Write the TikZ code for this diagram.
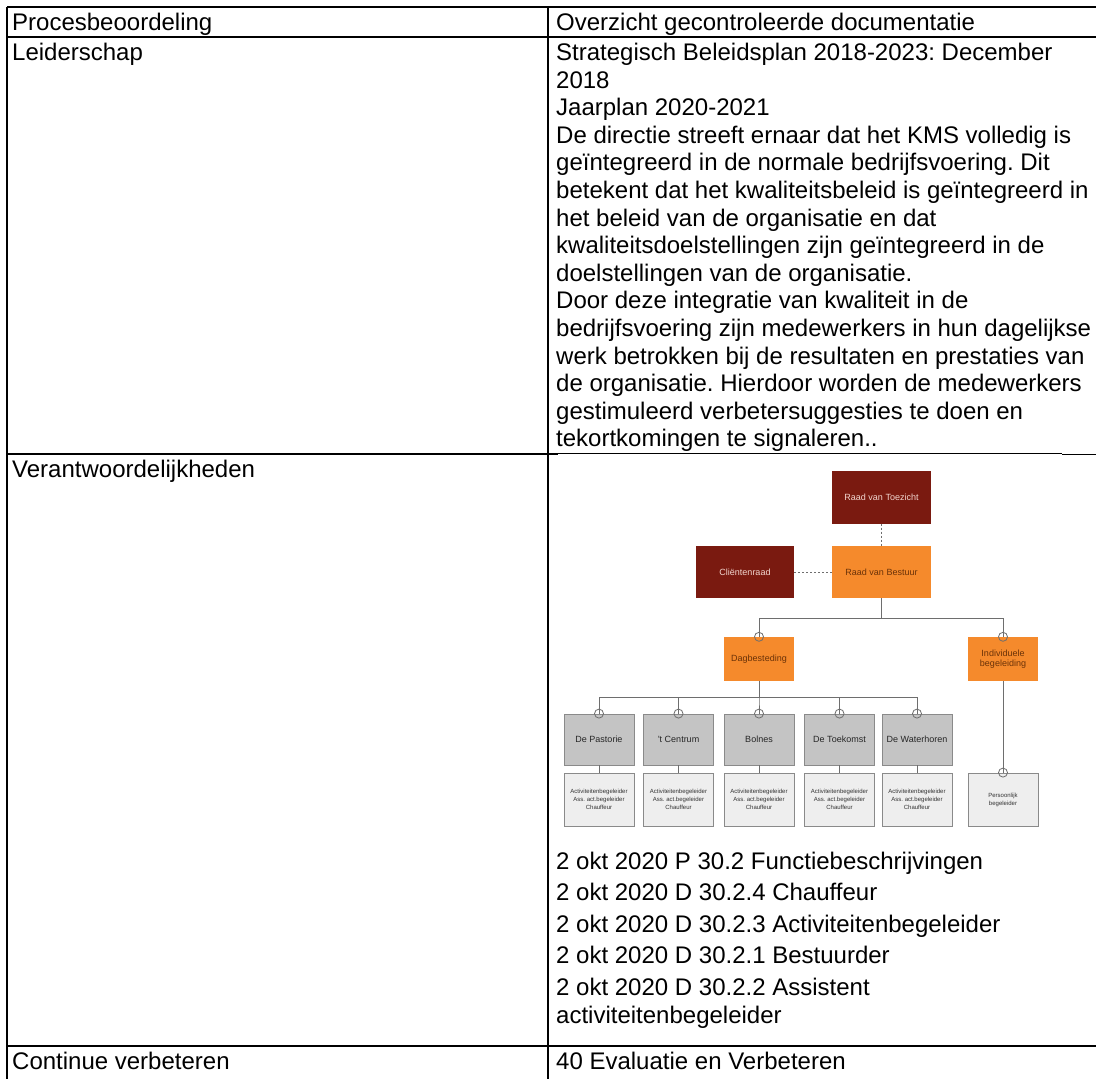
\documentclass[tikz,border=0pt]{standalone}
\usepackage{fontspec}
\setmainfont{Liberation Sans}
\frenchspacing
\definecolor{darkred}{HTML}{7A1A10}
\definecolor{orangebox}{HTML}{F58A2C}
\definecolor{graybox}{HTML}{C4C4C4}
\definecolor{grayedge}{HTML}{8A8A8A}
\definecolor{lightbox}{HTML}{EEEEEE}
\definecolor{connc}{HTML}{6E6E6E}
\definecolor{redtext}{HTML}{F2D6CF}
\definecolor{orangetext}{HTML}{6A3208}
\tikzset{
  txt/.style={anchor=base west, inner sep=0pt, font=\fontsize{24bp}{27.6bp}\selectfont},
  grid/.style={line width=1.8bp, black},
  thingrid/.style={line width=1.2bp, black},
  orgbox/.style={inner sep=1bp, align=center, font=\fontsize{9bp}{10.5bp}\selectfont},
  redbox/.style={orgbox, fill=darkred, text=redtext, minimum width=99bp, minimum height=53bp},
  orbox/.style={orgbox, fill=orangebox, text=orangetext},
  gbox/.style={orgbox, fill=graybox, draw=grayedge, line width=0.8bp, text=black!85, minimum width=70bp, minimum height=51bp},
  lbox/.style={orgbox, fill=lightbox, draw=grayedge, line width=0.8bp, text=black!80, minimum width=70bp, minimum height=53bp, font=\fontsize{6bp}{8bp}\selectfont},
  conn/.style={connc, line width=1bp},
  dotconn/.style={connc, line width=1bp, dash pattern=on 2bp off 2bp},
  ring/.style={connc, line width=0.8bp},
}
\begin{document}
\begin{tikzpicture}[x=1bp, y=-1bp]
\useasboundingbox (0,0) rectangle (1096,1079);
\fill[white] (0,0) rectangle (1096,1079);

% table grid
\draw[grid] (7,7) -- (1096,7);
\draw[grid] (7,37) -- (1096,37);
\draw[grid] (7,454) -- (558,454);
\draw[thingrid] (558,453.5) -- (1062,453.5);
\draw[grid] (1062,454.5) -- (1096,454.5);
\draw[grid] (7,1046) -- (1096,1046);
\draw[grid] (7,7) -- (7,1079);
\draw[grid] (548,7) -- (548,1079);

% header row
\node[txt] (h1) at (12,30) {Procesbeoordeling};
\node[txt] (h2) at (556,30) {Overzicht gecontroleerde documentatie};

% row 2
\node[txt] (r2l) at (12,60.5) {Leiderschap};
\node[txt] (p1) at (556,60.5) {Strategisch Beleidsplan 2018-2023: December};
\node[txt] (p2) at (556,88.1) {2018};
\node[txt] (p3) at (556,115.7) {Jaarplan 2020-2021};
\node[txt] (p4) at (556,143.3) {De directie streeft ernaar dat het KMS volledig is};
\node[txt] (p5) at (556,170.9) {geïntegreerd in de normale bedrijfsvoering. Dit};
\node[txt] (p6) at (556,198.5) {betekent dat het kwaliteitsbeleid is geïntegreerd in};
\node[txt] (p7) at (556,226.1) {het beleid van de organisatie en dat};
\node[txt] (p8) at (556,253.7) {kwaliteitsdoelstellingen zijn geïntegreerd in de};
\node[txt] (p9) at (556,281.3) {doelstellingen van de organisatie.};
\node[txt] (p10) at (556,308.9) {Door deze integratie van kwaliteit in de};
\node[txt] (p11) at (556,336.5) {bedrijfsvoering zijn medewerkers in hun dagelijkse};
\node[txt] (p12) at (556,364.1) {werk betrokken bij de resultaten en prestaties van};
\node[txt] (p13) at (556,391.7) {de organisatie. Hierdoor worden de medewerkers};
\node[txt] (p14) at (556,419.3) {gestimuleerd verbetersuggesties te doen en};
\node[txt] (p15) at (556,446.9) {tekortkomingen te signaleren..};

% row 3
\node[txt] (r3l) at (12,477) {Verantwoordelijkheden};

% org chart
\node[redbox] (rvt) at (881.5,497) {Raad van Toezicht};
\node[redbox, minimum width=98bp, minimum height=52bp] (clr) at (745,572) {Cliëntenraad};
\node[orbox, minimum width=99bp, minimum height=52bp] (rvb) at (881.5,572) {Raad van Bestuur};
\node[orbox, minimum width=70bp, minimum height=44bp] (dag) at (759,659) {Dagbesteding};
\node[orbox, minimum width=70bp, minimum height=44bp] (ind) at (1003,659) {Individuele\\begeleiding};

\node[gbox] (g1) at (599,739.5) {De Pastorie};
\node[gbox] (g2) at (678.5,739.5) {'t Centrum};
\node[gbox] (g3) at (759,739.5) {Bolnes};
\node[gbox] (g4) at (839.5,739.5) {De Toekomst};
\node[gbox] (g5) at (917,739.5) {De Waterhoren};

\node[lbox] (l1) at (599,799.5) {Activiteitenbegeleider\\Ass. act.begeleider\\Chauffeur};
\node[lbox] (l2) at (678.5,799.5) {Activiteitenbegeleider\\Ass. act.begeleider\\Chauffeur};
\node[lbox] (l3) at (759,799.5) {Activiteitenbegeleider\\Ass. act.begeleider\\Chauffeur};
\node[lbox] (l4) at (839.5,799.5) {Activiteitenbegeleider\\Ass. act.begeleider\\Chauffeur};
\node[lbox] (l5) at (917,799.5) {Activiteitenbegeleider\\Ass. act.begeleider\\Chauffeur};
\node[lbox] (lp) at (1003,799.5) {Persoonlijk\\begeleider};

\draw[dotconn] (rvt.south) -- (rvb.north);
\draw[dotconn] (clr.east) -- (rvb.west);
\draw[conn] (rvb.south) -- ++(0,20) -| (dag.north);
\draw[conn] (rvb.south) -- ++(0,20) -| (ind.north);
\foreach \g in {g1,g2,g3,g4,g5}{
  \draw[conn] (dag.south) -- ++(0,16) -| (\g.north);
}
\foreach \i in {1,...,5}{
  \draw[conn] (g\i.south) -- (l\i.north);
}
\draw[conn] (ind.south) -- (lp.north);
\foreach \n in {dag,ind,g1,g2,g3,g4,g5,lp}{
  \draw[ring] (\n.north) circle (4.5);
}

\node[txt] (d1) at (556,869) {2 okt 2020 P 30.2 Functiebeschrijvingen};
\node[txt] (d2) at (556,900.6) {2 okt 2020 D 30.2.4 Chauffeur};
\node[txt] (d3) at (556,932.2) {2 okt 2020 D 30.2.3 Activiteitenbegeleider};
\node[txt] (d4) at (556,963.8) {2 okt 2020 D 30.2.1 Bestuurder};
\node[txt] (d5) at (556,995.4) {2 okt 2020 D 30.2.2 Assistent};
\node[txt] (d6) at (556,1023) {activiteitenbegeleider};

% row 4
\node[txt] (r4l) at (12,1069) {Continue verbeteren};
\node[txt] (r4r) at (556,1069) {40 Evaluatie en Verbeteren};
\end{tikzpicture}
\end{document}
